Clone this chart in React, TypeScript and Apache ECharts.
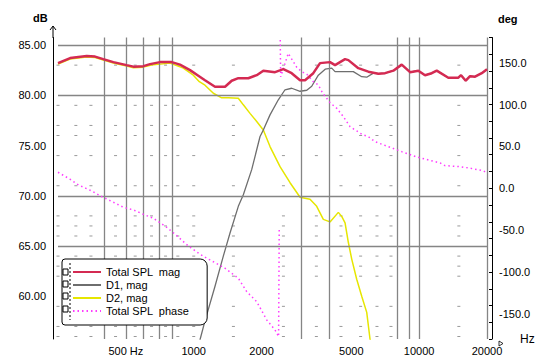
import React, { useEffect, useRef } from 'react';
import * as echarts from 'echarts';

// ---- data ----
const totalFreq = [250, 283, 335, 365, 397, 440, 504, 540, 598, 640, 709, 799, 869, 963, 1048, 1122, 1243, 1377, 1474, 1577, 1747, 1903, 2036, 2295, 2498, 2720, 2963, 3118, 3392, 3634, 4024, 4236, 4692, 4853, 5373, 5952, 6593, 7059, 7683, 8370, 9115, 9920, 10620, 11375, 11968, 13473, 14925, 15343, 16095, 16820, 17700, 18958, 20000];
const totalMag = [83.2, 83.7, 83.9, 83.85, 83.6, 83.3, 83.0, 82.85, 82.9, 83.1, 83.3, 83.3, 83.05, 82.5, 81.95, 81.5, 80.85, 80.85, 81.45, 81.7, 81.7, 82.0, 82.45, 82.3, 82.6, 82.2, 81.5, 81.5, 82.2, 83.2, 83.3, 83.0, 83.6, 83.5, 82.7, 82.35, 82.15, 82.2, 82.45, 83.05, 82.3, 82.45, 82.0, 82.2, 82.45, 81.75, 81.75, 82.0, 81.45, 81.9, 81.85, 82.2, 82.6];

const d1Freq = [1000, 1067, 1122, 1243, 1353, 1449, 1577, 1660, 1808, 1969, 2036, 2180, 2373, 2541, 2720, 2963, 3173, 3338, 3571, 3830, 4095, 4236, 4610, 5105, 5563, 5855, 6263, 6593, 7059, 7683, 8370, 9115, 9920, 10620, 11375, 11968, 13473, 14925, 15343, 16095, 16820, 17700, 18958, 20000];
const d1Mag = [53.6, 55.7, 57.55, 61.0, 64.0, 66.3, 68.95, 70.1, 72.6, 75.9, 76.55, 78.05, 79.55, 80.55, 80.7, 80.4, 80.5, 80.9, 82.0, 82.6, 82.7, 82.35, 82.35, 82.35, 81.85, 81.8, 82.2, 82.15, 82.2, 82.45, 83.05, 82.3, 82.45, 82.0, 82.2, 82.45, 81.75, 81.75, 82.0, 81.45, 81.9, 81.85, 82.2, 82.6];

const d2Freq = [250, 283, 335, 365, 397, 440, 504, 540, 598, 662, 785, 899, 996, 1059, 1122, 1222, 1331, 1424, 1577, 1660, 1777, 1903, 2036, 2180, 2415, 2675, 2963, 3280, 3512, 3758, 4024, 4380, 4535, 4692, 4853, 5023, 5285, 5563, 5855, 6058, 6300];
const d2Mag = [83.1, 83.6, 83.8, 83.75, 83.5, 83.2, 82.9, 82.75, 82.8, 83.05, 83.2, 82.7, 82.0, 81.35, 81.0, 80.2, 79.75, 79.75, 79.7, 79.05, 78.2, 77.4, 76.55, 74.9, 72.9, 71.3, 69.85, 69.65, 68.95, 67.65, 67.4, 68.35, 67.95, 67.3, 65.35, 63.7, 61.7, 60.0, 58.4, 55.7, 53.5];

const phaseFreq = [250, 283, 308, 353, 391, 440, 487, 540, 608, 662, 759, 841, 946, 1067, 1181, 1377, 1577, 1718, 1903, 2108, 2295, 2380, 2395, 2405, 2420, 2430, 2627, 2865, 3014, 3173, 3392, 3572, 3736, 3890, 4024, 4310, 4610, 4937, 5285, 5563, 5952, 6373, 8370, 9657, 12380, 13030, 15185, 16820, 19270, 20000];
const phaseDeg: (number | string)[] = [19.1, 10.7, 3.9, -3.2, -10.0, -16.7, -22.7, -25.9, -31.9, -35.8, -46.6, -56.6, -68.9, -78.8, -85.6, -95.5, -107.4, -123.4, -135.4, -157.2, -169.2, -177.1, -47, '-', 177, 133, 161, 144.4, 139.2, 136.1, 127.3, 123.3, 113.4, 107.4, 102.2, 95.5, 85.5, 73.5, 68.4, 64.5, 61.6, 55.6, 43.7, 37.7, 30.2, 27.0, 25.8, 23.9, 21.0, 17.9];

const xTickLabels = [500, 1000, 2000, 5000, 10000, 20000];
const gridFreqSolid = [400, 500, 600, 700, 800, 3000, 4000, 8000, 9000, 10000, 20000];
const gridDbSolid = [85, 80, 70, 65];
const dotFreqs = [250, 300, 350, 450, 550, 650, 750, 850, 1000, 1500, 2500, 3500, 4500, 5500, 6500, 7500, 15000];
const dotDbs = [83, 79, 77, 76, 74, 71, 68, 67, 66, 64, 63, 62, 59, 57, 56];

const seriesNames = ['Total SPL  mag', 'D1, mag', 'D2, mag', 'Total SPL  phase'];

const FONT = '"Liberation Sans", Arial, Helvetica, sans-serif';

const zip = (xs: number[], ys: (number | string)[]) => xs.map((x, i) => [x, ys[i]]);

export default function App() {
  const ref = useRef<HTMLDivElement>(null);
  useEffect(() => {
    document.body.style.margin = '0';
    const chart = echarts.init(ref.current!, null, { renderer: 'svg' });
    const dotData: number[][] = [];
    dotFreqs.forEach((f) => dotDbs.forEach((d) => dotData.push([f, d])));

    chart.setOption({
      animation: false,
      backgroundColor: '#fff',
      textStyle: { fontFamily: FONT },
      title: {
        text: 'dB',
        left: 33,
        top: 12,
        padding: 0,
        textStyle: { color: '#000', fontSize: 11, fontWeight: 'bold', fontFamily: FONT },
      },
      grid: { left: 58, top: 37.5, width: 429, height: 301.5, containLabel: false, outerBoundsMode: 'none' },
      xAxis: {
        type: 'log',
        logBase: 10,
        min: 250,
        max: 20000,
        axisLine: { show: false, onZero: false },
        axisTick: { show: false },
        splitLine: { show: false },
        axisLabel: {
          customValues: xTickLabels,
          formatter: (v: number) => (v === 500 ? '500 Hz' : String(v)),
          color: '#000',
          fontSize: 11,
          fontFamily: FONT,
          margin: 6,
          showMinLabel: true,
          showMaxLabel: true,
        },
        name: 'Hz',
        nameLocation: 'end',
        nameGap: 33,
        nameTextStyle: { color: '#000', fontSize: 12, fontFamily: FONT, verticalAlign: 'middle', padding: [3, 0, 0, 0] },
      },
      yAxis: [
        {
          type: 'value',
          position: 'left',
          offset: 5,
          min: 55.75,
          max: 85.75,
          splitNumber: 6,
          axisLine: { show: true, onZero: false, lineStyle: { color: '#000', width: 1 } },
          axisTick: { show: false },
          splitLine: { show: false },
          axisLabel: {
            formatter: (v: number) => v.toFixed(2),
            color: '#000',
            fontSize: 11,
            fontFamily: FONT,
            margin: 7,
            showMinLabel: false,
            showMaxLabel: false,
          },
        },
        {
          type: 'value',
          position: 'right',
          offset: 5,
          min: -180,
          max: 180,
          splitNumber: 7,
          axisLine: { show: true, onZero: false, lineStyle: { color: '#000', width: 1 } },
          axisTick: { show: false },
          splitLine: { show: false },
          axisLabel: {
            formatter: (v: number) => v.toFixed(1),
            color: '#000',
            fontSize: 11,
            fontFamily: FONT,
            margin: 7,
            showMinLabel: false,
            showMaxLabel: false,
          },
          name: 'deg',
          nameLocation: 'end',
          nameGap: 13,
          nameTextStyle: { color: '#000', fontSize: 11, fontWeight: 'bold', fontFamily: FONT, align: 'left', padding: [0, 0, 0, 6] },
        },
        {
          type: 'value',
          position: 'right',
          offset: 5,
          min: -180,
          max: 180,
          interval: 20,
          axisLine: { show: false, onZero: false },
          axisTick: { show: true, inside: true, length: 3, lineStyle: { color: '#000' } },
          axisLabel: { show: false },
          splitLine: { show: false },
        },
      ],
      legend: {
        orient: 'vertical',
        left: 62,
        top: 259,
        padding: [7, 18, 8, 10],
        itemWidth: 28,
        itemHeight: 8,
        itemGap: 1,
        backgroundColor: '#fff',
        borderColor: '#000',
        borderWidth: 1,
        borderRadius: [3, 7, 7, 3],
        selectedMode: false,
        z: 10,
        itemStyle: { color: 'rgba(0,0,0,0)', borderColor: 'rgba(0,0,0,0)', borderWidth: 0, opacity: 0 },
        textStyle: { fontSize: 11, color: '#000', fontFamily: FONT, lineHeight: 12 },
        data: seriesNames,
      },
      graphic: [
        { type: 'line', z: 20, shape: { x1: 53, y1: 26, x2: 53, y2: 38 }, style: { stroke: '#000', lineWidth: 1 } },
        { type: 'polyline', z: 20, shape: { points: [[50, 30], [53, 26], [56, 30]] }, style: { stroke: '#000', lineWidth: 1, fill: 'none' } },
        { type: 'line', z: 20, shape: { x1: 70, y1: 263, x2: 70, y2: 320 }, style: { stroke: '#000', lineWidth: 1, lineDash: [2, 2] } },
        { type: 'rect', z: 20, shape: { x: 63, y: 269, width: 5, height: 6 }, style: { stroke: '#000', lineWidth: 1, fill: '#fff' } },
        { type: 'rect', z: 20, shape: { x: 63, y: 281, width: 5, height: 6 }, style: { stroke: '#000', lineWidth: 1, fill: '#fff' } },
        { type: 'rect', z: 20, shape: { x: 63, y: 293, width: 5, height: 6 }, style: { stroke: '#000', lineWidth: 1, fill: '#fff' } },
        { type: 'rect', z: 20, shape: { x: 63, y: 306, width: 5, height: 6 }, style: { stroke: '#000', lineWidth: 1, fill: '#fff' } },
        { type: 'polygon', z: 20, shape: { points: [[499, 341], [499, 346], [503, 343.5]] }, style: { stroke: '#000', lineWidth: 0.8, fill: 'none' } },
      ],
      series: [
        {
          name: 'grid',
          type: 'scatter',
          silent: true,
          z: 1,
          symbol: 'rect',
          symbolSize: [3, 1],
          itemStyle: { color: '#808080' },
          data: dotData,
          markLine: {
            silent: true,
            symbol: ['none', 'none'],
            label: { show: false },
            lineStyle: { color: '#858585', width: 1.3, type: 'solid' },
            data: [
              ...gridFreqSolid.map((f) => ({ xAxis: f })),
              ...gridDbSolid.map((d) => ({ yAxis: d })),
            ],
          },
        },
        {
          name: seriesNames[2],
          type: 'line',
          yAxisIndex: 0,
          z: 3,
          symbol: 'none',
          data: zip(d2Freq, d2Mag),
          lineStyle: { color: '#e6e600', width: 1.5 },
          itemStyle: { color: '#e6e600' },
        },
        {
          name: seriesNames[1],
          type: 'line',
          yAxisIndex: 0,
          z: 4,
          symbol: 'none',
          data: zip(d1Freq, d1Mag),
          lineStyle: { color: '#6e6e6e', width: 1.3 },
          itemStyle: { color: '#6e6e6e' },
        },
        {
          name: seriesNames[3],
          type: 'line',
          yAxisIndex: 1,
          z: 5,
          symbol: 'none',
          connectNulls: false,
          data: zip(phaseFreq, phaseDeg),
          lineStyle: { color: '#ff3cff', width: 1.5, type: [1.5, 3] },
          itemStyle: { color: '#ff3cff' },
        },
        {
          name: seriesNames[0],
          type: 'line',
          yAxisIndex: 0,
          z: 6,
          symbol: 'none',
          data: zip(totalFreq, totalMag),
          lineStyle: { color: '#d42a52', width: 2.5 },
          itemStyle: { color: '#d42a52' },
        },
      ],
    });
    return () => chart.dispose();
  }, []);
  return <div ref={ref} style={{ width: 537, height: 359 }} />;
}
